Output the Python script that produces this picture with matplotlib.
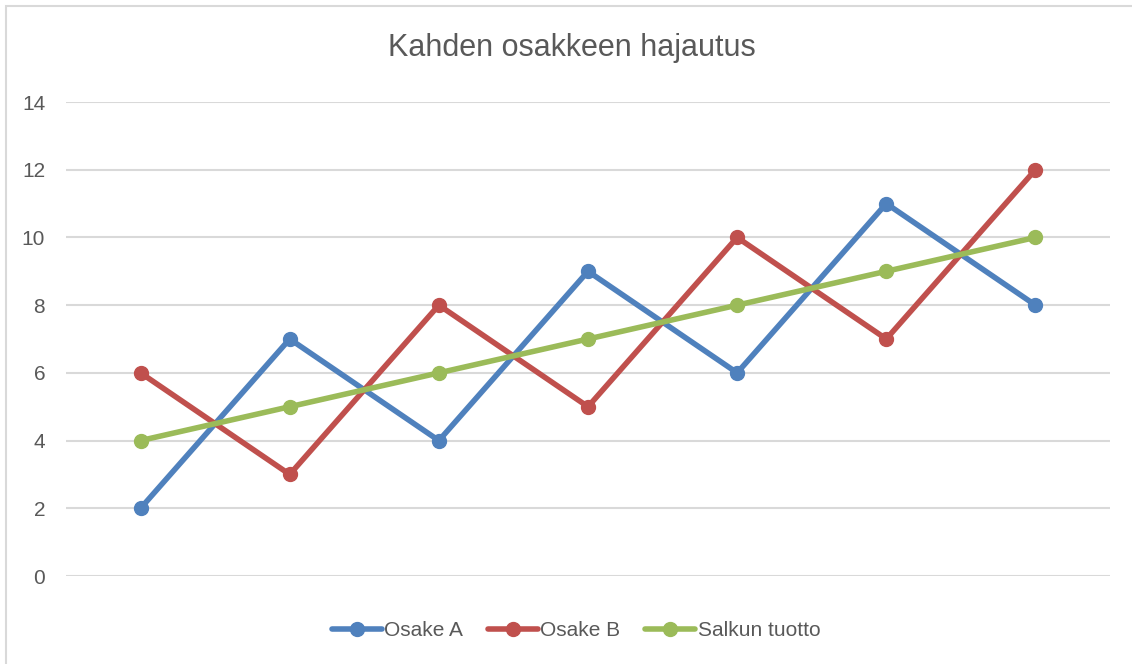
import matplotlib.pyplot as plt
from matplotlib.patches import Rectangle

# Data
osake_a = [2, 7, 4, 9, 6, 11, 8]
osake_b = [6, 3, 8, 5, 10, 7, 12]
salkun_tuotto = [4, 5, 6, 7, 8, 9, 10]
sarjat = ['Osake A', 'Osake B', 'Salkun tuotto']
varit = ['#4F81BD', '#C0504D', '#9BBB59']
y_ticks = [0, 2, 4, 6, 8, 10, 12, 14]

plt.rcParams['font.family'] = ['Liberation Sans', 'DejaVu Sans']
tekstivari = '#595959'

fig = plt.figure(figsize=(11.32, 6.64), dpi=100)
ax = fig.add_axes([66/1132, 1 - 576/664, (1110 - 66)/1132, (576 - 102)/664])

x = list(range(len(osake_a)))
for arvot, nimi, vari in zip([osake_a, osake_b, salkun_tuotto], sarjat, varit):
    ax.plot(x, arvot, color=vari, linewidth=4, marker='o', markersize=10,
            label=nimi, solid_capstyle='round', solid_joinstyle='round')

ax.set_xlim(-0.5, len(osake_a) - 0.5)
ax.set_ylim(0, 14)
ax.set_yticks(y_ticks)
ax.set_xticks([])
ax.grid(axis='y', color='#D9D9D9', linewidth=1.5)
ax.set_axisbelow(True)
for s in ax.spines.values():
    s.set_visible(False)
ax.tick_params(axis='y', length=0, pad=15, labelsize=15, labelcolor=tekstivari)

fig.text(0.505, 0.928, 'Kahden osakkeen hajautus', ha='center', va='center',
         fontsize=22, color=tekstivari)

fig.legend(loc='center', bbox_to_anchor=(0.509, 0.05), ncol=3, frameon=False,
           fontsize=15, labelcolor=tekstivari, handlelength=2.4, handletextpad=0.1,
           columnspacing=1.2)

# kaavion reunus
fig.patches.append(Rectangle((6/1132, -0.1), 1.2, 1 - 6/664 + 0.1, transform=fig.transFigure,
                             fill=False, edgecolor='#D9D9D9', linewidth=1.5))

fig.savefig('out.png', dpi=100)
